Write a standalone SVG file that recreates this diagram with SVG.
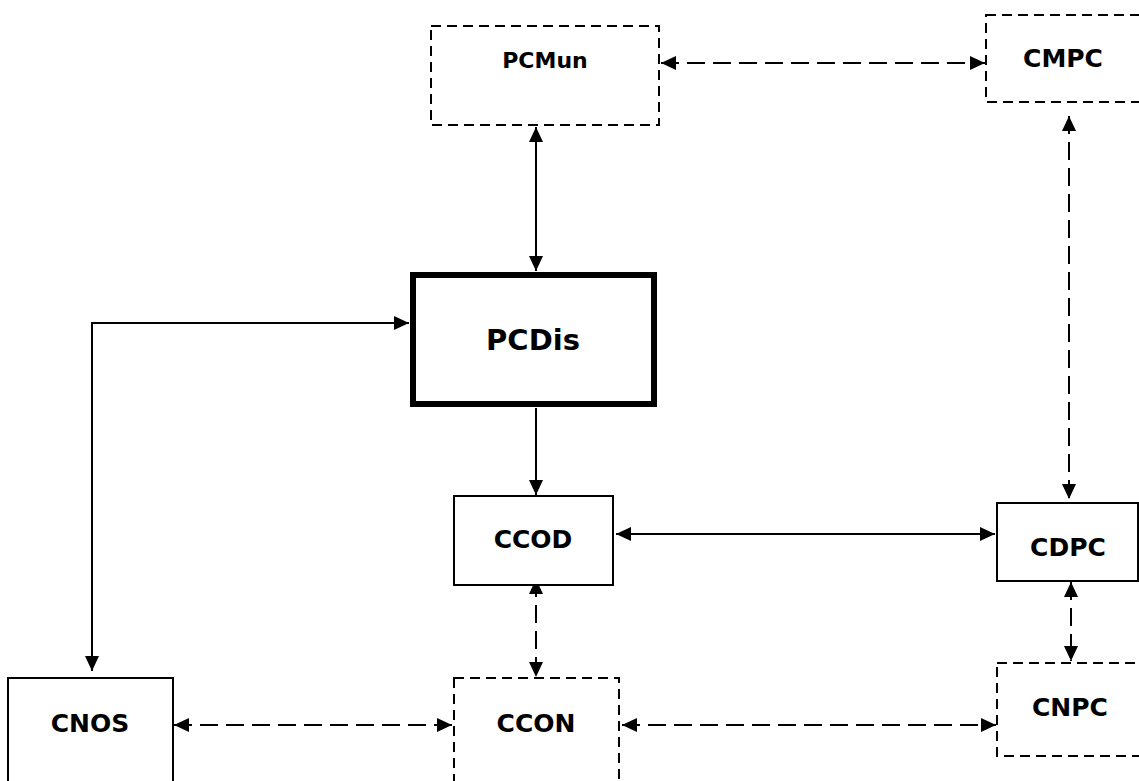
<svg xmlns="http://www.w3.org/2000/svg" width="1139" height="781" viewBox="0 0 1139 781">
<style>
.box{fill:#fff;stroke:#000;stroke-width:2}
.dbox{fill:#fff;stroke:#000;stroke-width:2;stroke-dasharray:10 6}
.thick{fill:#fff;stroke:#000;stroke-width:6}
.lbl{font-family:"DejaVu Sans","Liberation Sans",sans-serif;font-weight:bold;font-size:25px;text-anchor:middle;fill:#000}
.c{fill:none;stroke:#000;stroke-width:2}
.d{stroke-dasharray:18 8}
</style>
<defs>
<marker id="ah" markerUnits="userSpaceOnUse" markerWidth="15" markerHeight="14" refX="15" refY="7" orient="auto-start-reverse" viewBox="0 0 15 14">
<path d="M0,0 L15,7 L0,14 z" fill="#000"/>
</marker>
</defs>
<g id="connectors">
<line class="c d" x1="661" y1="63" x2="985" y2="63" marker-start="url(#ah)" marker-end="url(#ah)"/>
<line class="c" x1="536" y1="127" x2="536" y2="271" marker-start="url(#ah)" marker-end="url(#ah)"/>
<line class="c d" x1="1069" y1="116" x2="1069" y2="499" marker-start="url(#ah)" marker-end="url(#ah)"/>
<polyline class="c" points="409,323 92,323 92,671" marker-start="url(#ah)" marker-end="url(#ah)"/>
<line class="c" x1="536" y1="408" x2="536" y2="495" marker-end="url(#ah)"/>
<line class="c" x1="616" y1="534" x2="995" y2="534" marker-start="url(#ah)" marker-end="url(#ah)"/>
<line class="c d" x1="536" y1="579" x2="536" y2="677" marker-start="url(#ah)" marker-end="url(#ah)"/>
<line class="c d" x1="1071" y1="582" x2="1071" y2="661" marker-start="url(#ah)" marker-end="url(#ah)"/>
<line class="c d" x1="174" y1="725" x2="452" y2="725" marker-start="url(#ah)" marker-end="url(#ah)"/>
<line class="c d" x1="622" y1="725" x2="996" y2="725" marker-start="url(#ah)" marker-end="url(#ah)"/>
</g>
<g id="PCMun"><rect class="dbox" x="431" y="26" width="228" height="99"/><text class="lbl" x="545" y="68" style="font-size:22px">PCMun</text></g>
<g id="CMPC"><rect class="dbox" x="986" y="15" width="170" height="87"/><text class="lbl" x="1063" y="67">CMPC</text></g>
<g id="PCDis"><rect class="thick" x="413" y="275" width="241" height="129"/><text class="lbl" x="533" y="350" style="font-size:29px">PCDis</text></g>
<g id="CCOD"><rect class="box" x="454" y="496" width="159" height="89"/><text class="lbl" x="533" y="548">CCOD</text></g>
<g id="CDPC"><rect class="box" x="997" y="503" width="141" height="78"/><text class="lbl" x="1068" y="556">CDPC</text></g>
<g id="CNPC"><rect class="dbox" x="997" y="663" width="170" height="93"/><text class="lbl" x="1070" y="716">CNPC</text></g>
<g id="CNOS"><rect class="box" x="8" y="678" width="165" height="120"/><text class="lbl" x="90" y="732">CNOS</text></g>
<g id="CCON"><rect class="dbox" x="454" y="678" width="165" height="120"/><text class="lbl" x="536" y="732">CCON</text></g>
</svg>
